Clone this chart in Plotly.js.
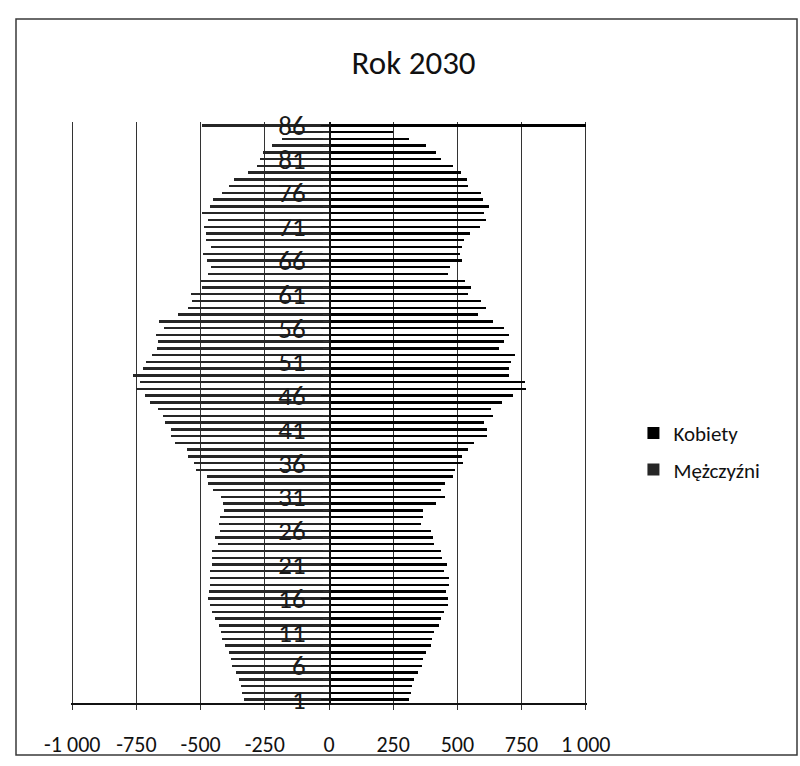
<!DOCTYPE html>
<html>
<head>
<meta charset="utf-8">
<script src="https://cdn.plot.ly/plotly-3.0.1.min.js"></script>
<style>html,body{margin:0;padding:0;background:#fff;}#chart{width:800px;height:766px;}</style>
</head>
<body>
<div id="chart"></div>
<script>
// Age categories 1..86
const ages = [];
for (let a = 1; a <= 86; a++) ages.push(a);

// Kobiety (right side), age 1..86
const kobiety = [
  312, 320, 325, 333, 346, 362, 368, 376, 398, 402,
  408, 430, 438, 448, 462, 463, 456, 468, 469, 448,
  460, 440, 436, 410, 404, 398, 360, 368, 365, 418,
  452, 437, 453, 482, 490, 522, 520, 542, 565, 614,
  615, 604, 638, 632, 675, 718, 769, 762, 700, 700,
  707, 724, 662, 681, 700, 681, 637, 580, 610, 592,
  542, 555, 530, 465, 472, 518, 512, 518, 524, 550,
  589, 613, 604, 622, 600, 594, 543, 536, 514, 484,
  438, 418, 376, 312, 250, 1000
];

// Mężczyźni (left side, negative), age 1..86
const mezczyzni = [
  -330, -340, -342, -350, -363, -378, -381, -391, -407, -417,
  -420, -430, -446, -456, -462, -473, -469, -465, -464, -462,
  -456, -454, -455, -433, -446, -426, -429, -426, -410, -413,
  -420, -450, -472, -475, -519, -525, -550, -552, -601, -617,
  -617, -640, -646, -668, -697, -716, -752, -736, -765, -726,
  -713, -688, -671, -668, -673, -642, -661, -590, -550, -535,
  -537, -496, -500, -473, -460, -476, -490, -460, -480, -480,
  -486, -473, -496, -464, -453, -416, -391, -369, -314, -280,
  -269, -259, -224, -182, -160, -495
];

const xTickVals = [-1000, -750, -500, -250, 0, 250, 500, 750, 1000];
const xTickText = ["-1 000", "-750", "-500", "-250", "0", "250", "500", "750", "1 000"];
const yTickVals = [1, 6, 11, 16, 21, 26, 31, 36, 41, 46, 51, 56, 61, 66, 71, 76, 81, 86];

const FONT = "Carlito, Lato, 'Open Sans', sans-serif";

const traces = [
  {
    type: 'bar', orientation: 'h', name: 'Kobiety',
    y: ages, x: kobiety, width: 0.36,
    marker: {color: '#000000', line: {width: 0}},
    legendgroup: 'k'
  },
  {
    type: 'bar', orientation: 'h', name: 'Mężczyźni',
    y: ages, x: mezczyzni, width: 0.36,
    marker: {color: '#262626', line: {width: 0}},
    legendgroup: 'm'
  }
];

const layout = {
  width: 800, height: 766,
  margin: {l: 71, r: 213, t: 122, b: 63},
  paper_bgcolor: '#ffffff', plot_bgcolor: '#ffffff',
  font: {family: FONT, color: '#111111'},
  barmode: 'relative',
  bargap: 0,
  showlegend: true,
  title: {
    text: 'Rok 2030',
    font: {family: FONT, size: 33, color: '#111111'},
    x: 0.517, xanchor: 'center',
    y: 1 - 62 / 766, yanchor: 'middle', yref: 'container'
  },
  xaxis: {
    range: [-1005, 1005],
    tickmode: 'array', tickvals: xTickVals, ticktext: xTickText,
    showgrid: true, gridcolor: '#333333', gridwidth: 1,
    zeroline: false,
    showline: true, linecolor: '#111111', linewidth: 1.5,
    ticks: 'outside', ticklen: 5, tickcolor: '#333333',
    ticklabelstandoff: 16,
    tickfont: {family: FONT, size: 22, color: '#111111'},
    fixedrange: true
  },
  yaxis: {
    range: [0.5, 86.5],
    anchor: 'free', position: 0.5,
    tickmode: 'array', tickvals: yTickVals,
    showgrid: false, zeroline: false,
    showline: true, linecolor: '#111111', linewidth: 1.5,
    ticks: 'outside', ticklen: 8, tickcolor: '#111111',
    minor: {tickmode: 'linear', tick0: 1, dtick: 1, ticks: 'outside', ticklen: 6, tickcolor: '#333333', showgrid: false},
    ticklabelstandoff: 10,
    tickfont: {family: FONT, size: 27, color: '#1a1a1a'},
    fixedrange: true
  },
  legend: {
    x: 1.09, xanchor: 'left',
    y: 0.433, yanchor: 'middle',
    font: {family: FONT, size: 21, color: '#111111'},
    tracegroupgap: 6,
    itemwidth: 30,
    bgcolor: 'rgba(0,0,0,0)',
    traceorder: 'grouped'
  },
  shapes: [
    {type: 'rect', xref: 'paper', yref: 'paper',
     x0: (16 - 71) / 516, x1: (797 - 71) / 516,
     y0: (703 - 755) / 581, y1: (703 - 19) / 581,
     line: {color: '#3a3a3a', width: 1.5}, fillcolor: 'rgba(0,0,0,0)', layer: 'below'}
  ]
};

Plotly.newPlot('chart', traces, layout, {displayModeBar: false, staticPlot: true});
</script>
</body>
</html>
